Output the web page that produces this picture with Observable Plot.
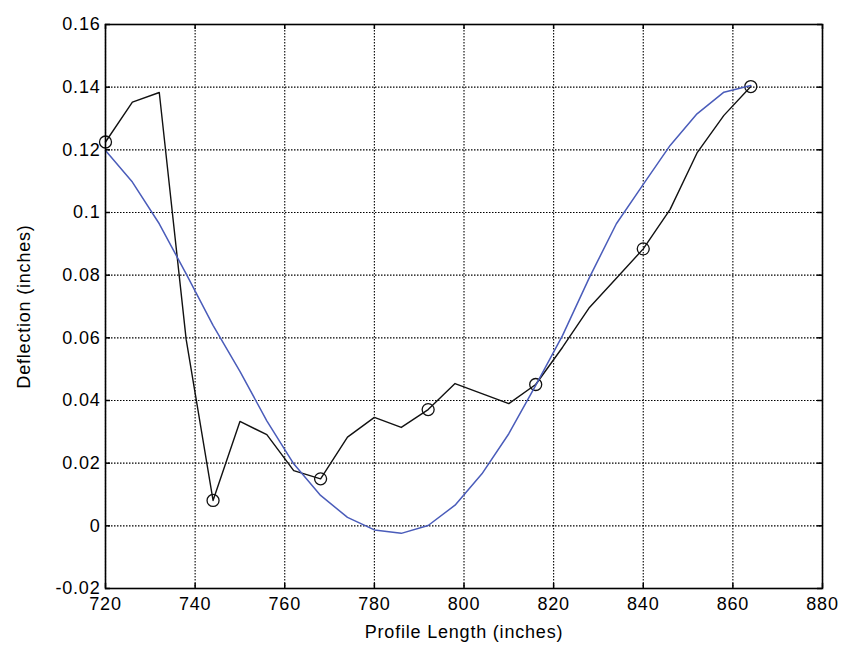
<!DOCTYPE html>
<html><head><meta charset="utf-8">
<script src="https://cdn.jsdelivr.net/npm/d3@7"></script>
<script src="https://cdn.jsdelivr.net/npm/@observablehq/plot@0.6"></script>
<style>
html,body{margin:0;padding:0;background:#fff;}
#chart svg{display:block;}
</style></head><body><div id="chart"></div>
<script>
const profileLength = [720,726,732,738,744,750,756,762,768,774,780,786,792,798,804,810,816,822,828,834,840,846,852,858,864];
const measured = [0.1225,0.1352,0.1383,0.0595,0.0081,0.0333,0.0291,0.0176,0.0150,0.0283,0.0346,0.0314,0.0371,0.0454,0.0422,0.0390,0.0451,0.0570,0.0697,0.0790,0.0884,0.1010,0.1190,0.1310,0.1402];
const fitted = [0.1198,0.1097,0.0964,0.0804,0.0640,0.0493,0.0335,0.0198,0.0097,0.0027,-0.0013,-0.0024,0.0001,0.0066,0.0166,0.0294,0.0448,0.0608,0.0793,0.0964,0.1090,0.1214,0.1315,0.1384,0.1405];
const markerLength = [720,744,768,792,816,840,864];
const xTicks = [720,740,760,780,800,820,840,860,880];
const yTicks = [-0.02,0,0.02,0.04,0.06,0.08,0.1,0.12,0.14,0.16];
const yTickLabels = ["-0.02","0","0.02","0.04","0.06","0.08","0.1","0.12","0.14","0.16"];
const xTitle = "Profile Length (inches)";
const yTitle = "Deflection (inches)";

const rows = profileLength.map((x, i) => ({x, measured: measured[i], fitted: fitted[i]}));
const markers = rows.filter(r => markerLength.includes(r.x));

const W = 844, H = 648, mt = 24, mr = 22, mb = 60, ml = 105;
const innerW = W - ml - mr, innerH = H - mt - mb;
const tickLen = 5;

const chart = Plot.plot({
  width: W, height: H,
  marginTop: mt, marginRight: mr, marginBottom: mb, marginLeft: ml,
  style: {fontFamily: "'Liberation Sans', Arial, Helvetica, sans-serif", fontSize: "18px", color: "#000", background: "#fff", letterSpacing: "0.8px"},
  x: {domain: [720, 880]},
  y: {domain: [-0.02, 0.16]},
  marks: [
    Plot.gridX(xTicks, {stroke: "#000", strokeOpacity: 1, strokeWidth: 1.1, strokeDasharray: "1.5,1.5"}),
    Plot.gridY(yTicks, {stroke: "#000", strokeOpacity: 1, strokeWidth: 1.1, strokeDasharray: "1.5,1.5"}),
    Plot.line(rows, {x: "x", y: "measured", stroke: "#111", strokeWidth: 1.4}),
    Plot.dot(markers, {x: "x", y: "measured", r: 6, stroke: "#111", strokeWidth: 1.3, fill: "none"}),
    Plot.line(rows, {x: "x", y: "fitted", stroke: "#4a5cba", strokeWidth: 1.5}),
    Plot.tickX(xTicks, {x: d => d, insetTop: innerH - tickLen, stroke: "#000", strokeWidth: 1.5}),
    Plot.tickX(xTicks, {x: d => d, insetBottom: innerH - tickLen, stroke: "#000", strokeWidth: 1.5}),
    Plot.tickY(yTicks, {y: d => d, insetRight: innerW - tickLen, stroke: "#000", strokeWidth: 1.5}),
    Plot.tickY(yTicks, {y: d => d, insetLeft: innerW - tickLen, stroke: "#000", strokeWidth: 1.5}),
    Plot.frame({stroke: "#000", strokeWidth: 1.6}),
    Plot.axisX(xTicks, {tickSize: 0, tickPadding: 9, tickFormat: d => String(d), label: xTitle, labelArrow: "none", labelAnchor: "center", labelOffset: 49}),
    Plot.axisY(yTicks, {tickSize: 0, tickPadding: 5, tickFormat: d => yTickLabels[yTicks.indexOf(d)], label: yTitle, labelArrow: "none", labelAnchor: "center", labelOffset: 88})
  ]
});
document.getElementById("chart").appendChild(chart);
</script>
</body></html>
